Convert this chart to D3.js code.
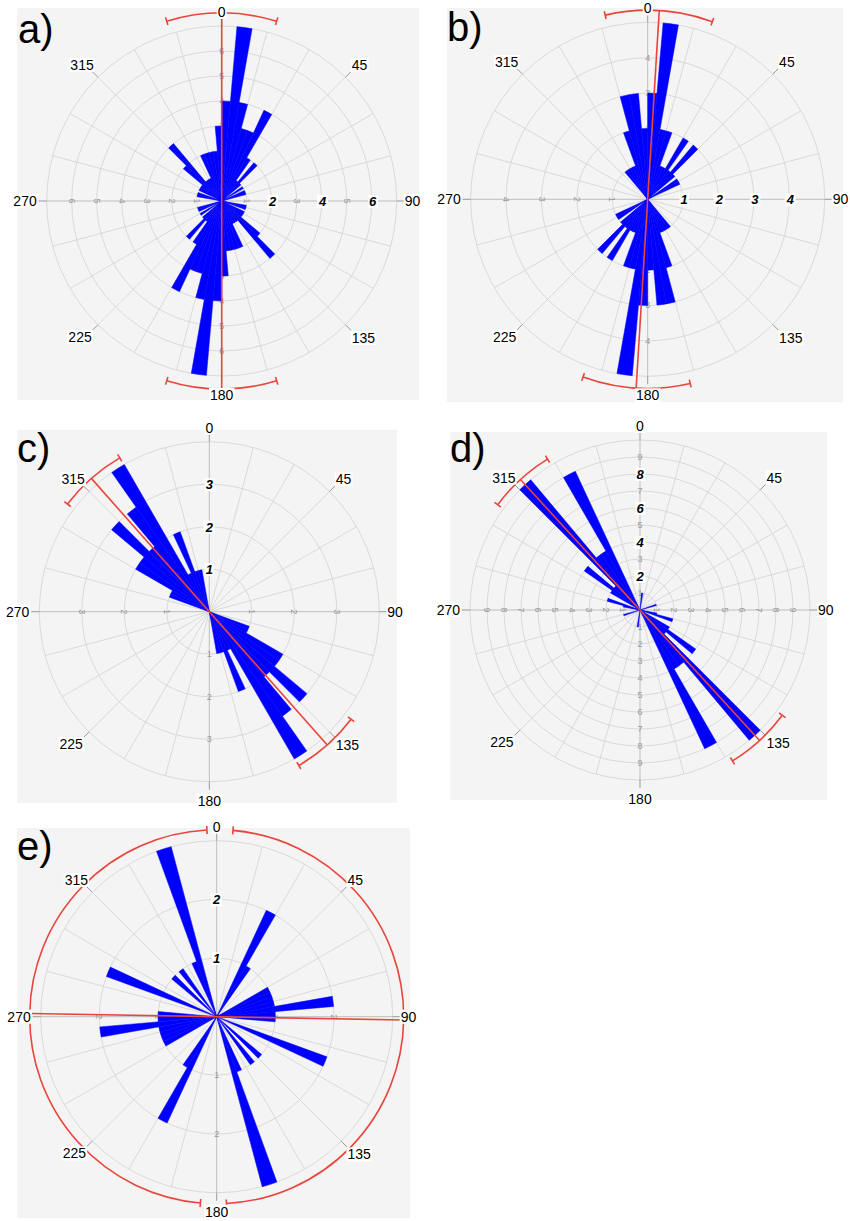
<!DOCTYPE html>
<html>
<head>
<meta charset="utf-8">
<script src="https://cdn.jsdelivr.net/npm/d3@7"></script>
<style>
body { margin: 0; background: #fff; }
text { font-family: "Liberation Sans", Arial, sans-serif; }
</style>
</head>
<body>
<script>
// 5 degree bins, 0..180, axial data (each bin is drawn again at +180)
var binWidth = 5;
var binStarts = d3.range(0, 180, binWidth);

var countsA = [4,7,4,3,3,4,2,1,2,1,0,1,0,1,1,0,0,0, 0,0,1,1,0,1,1,1,2,3,1,1,1,2,2,2,2,3];
var countsB = [3,5,2,2,1,1,2,1,2,1,0,1,1,0,0,0,0,0, 0,0,0,0,0,0,0,0,0,0,1,1,1,1,2,3,3,2];
var countsC = [0,0,0,0,0,0,0,0,0,0,0,0,0,0,0,0,0,0, 0,0,0,0,1,1,2,2,3,2,3,4,1,2,1,1,0,0];
var countsD = [0,1,0,0,0,0,0,0,0,0,0,0,0,0,1,0,0,0, 0,0,1,2,0,0,2,4,2,10,4,4,9,0,0,0,0,0];
var countsE = [0,0,0,0,0,2,1,0,0,0,0,0,1,1,1,1,2,1, 1,0,0,0,2,0,0,0,1,0,1,0,0,1,3,0,0,0];

var panelNames = ["a)", "b)", "c)", "d)", "e)"];
var ringMax = [7, 5, 4, 10, 3];
var meanDir = [0, 3.5, 318.5, 317.5, 91];
var confHalf = [17, 16.5, 11.3, 11, 86];
var boldTicksA = [2, 4, 6];
var boldTicksB = [1, 2, 3, 4];
var boldTicksC = [1, 2, 3];
var boldTicksD = [2, 4, 6, 8];
var boldTicksE = [1, 2];
var boldSide = ["E", "E", "N", "N", "N"];
var angleLabels = [0, 45, 90, 135, 180, 225, 270, 315];

var panels = [
  {name: panelNames[0], counts: countsA, max: ringMax[0], mean: meanDir[0], conf: confHalf[0], bold: boldTicksA, side: boldSide[0]},
  {name: panelNames[1], counts: countsB, max: ringMax[1], mean: meanDir[1], conf: confHalf[1], bold: boldTicksB, side: boldSide[1]},
  {name: panelNames[2], counts: countsC, max: ringMax[2], mean: meanDir[2], conf: confHalf[2], bold: boldTicksC, side: boldSide[2]},
  {name: panelNames[3], counts: countsD, max: ringMax[3], mean: meanDir[3], conf: confHalf[3], bold: boldTicksD, side: boldSide[3]},
  {name: panelNames[4], counts: countsE, max: ringMax[4], mean: meanDir[4], conf: confHalf[4], bold: boldTicksE, side: boldSide[4]}
];

// where each panel sits on the page
var layouts = [
  {x: 17,  y: 8,   w: 402, h: 392, cx: 221.7, cy: 201,    R: 175, arcR: 188, lx: 18,  ly: 43},
  {x: 447, y: 8,   w: 396, h: 394, cx: 647.7, cy: 199.3,  R: 177, arcR: 189, lx: 447, ly: 41},
  {x: 17,  y: 430, w: 380, h: 373, cx: 209.3, cy: 611.7,  R: 170, arcR: 178, lx: 17,  ly: 462},
  {x: 450, y: 432, w: 377, h: 368, cx: 640,   cy: 610,    R: 170, arcR: 177, lx: 450, ly: 462},
  {x: 17,  y: 828, w: 393, h: 390, cx: 216.7, cy: 1016.7, R: 176, arcR: 187, lx: 17,  ly: 860}
];

var red = "#e8453c";

var svg = d3.select("body").append("svg")
    .attr("width", 850)
    .attr("height", 1221);

function rad(deg) { return deg * Math.PI / 180; }
function px(r, deg) { return r * Math.sin(rad(deg)); }
function py(r, deg) { return -r * Math.cos(rad(deg)); }

// text with a white box behind it
function boxedText(g, x, y, str, opts) {
    var lg = g.append("g");
    var t = lg.append("text")
        .attr("x", x).attr("y", y)
        .attr("text-anchor", opts.anchor || "middle")
        .attr("font-size", opts.size || 14)
        .attr("font-weight", opts.weight || "normal")
        .attr("font-style", opts.style || "normal")
        .attr("fill", "#000")
        .text(str);
    var bb = t.node().getBBox();
    lg.insert("rect", "text")
        .attr("x", bb.x - 1).attr("y", bb.y + 1)
        .attr("width", bb.width + 2).attr("height", bb.height - 2)
        .attr("fill", "#fff");
    return lg;
}

function drawRose(p, L) {
    var g = svg.append("g");

    g.append("rect")
        .attr("x", L.x).attr("y", L.y)
        .attr("width", L.w).attr("height", L.h)
        .attr("fill", "#f4f4f4");

    var c = g.append("g").attr("transform", "translate(" + L.cx + "," + L.cy + ")");
    var r = d3.scaleLinear().domain([0, p.max]).range([0, L.R]);

    // rings
    c.selectAll("circle.ring")
        .data(d3.range(1, p.max + 1))
        .enter().append("circle")
        .attr("r", function(d) { return r(d); })
        .attr("fill", "none")
        .attr("stroke", "#d6d6d6")
        .attr("stroke-width", 0.9);

    // spokes every 15 degrees
    c.selectAll("line.spoke")
        .data(d3.range(0, 360, 15))
        .enter().append("line")
        .attr("x1", 0).attr("y1", 0)
        .attr("x2", function(d) { return px(L.R, d); })
        .attr("y2", function(d) { return py(L.R, d); })
        .attr("stroke", function(d) { return d % 90 === 0 ? "#b8b8b8" : "#d6d6d6"; })
        .attr("stroke-width", 0.9);

    // axis stubs and tick marks outside the circle
    c.selectAll("line.tick")
        .data(angleLabels)
        .enter().append("line")
        .attr("x1", function(d) { return px(L.R, d); })
        .attr("y1", function(d) { return py(L.R, d); })
        .attr("x2", function(d) { return px(L.R + 8, d); })
        .attr("y2", function(d) { return py(L.R + 8, d); })
        .attr("stroke", "#999")
        .attr("stroke-width", 1);

    // faint ring values along the four axes
    var sides = ["N", "E", "S", "W"];
    var dirs = {N: 0, E: 90, S: 180, W: 270};
    sides.forEach(function(s) {
        d3.range(1, p.max).forEach(function(v) {
            if (s === p.side && p.bold.indexOf(v) >= 0) return;
            var x = px(r(v), dirs[s]), y = py(r(v), dirs[s]);
            var t = c.append("text")
                .attr("x", x).attr("y", y)
                .attr("text-anchor", "middle")
                .attr("dominant-baseline", "central")
                .attr("font-size", 9)
                .attr("fill", "#9a9a9a")
                .text(v);
            if (s === "E" || s === "W") t.attr("transform", "rotate(90," + x + "," + y + ")");
        });
    });

    // petals
    var bins = [];
    p.counts.forEach(function(v, k) {
        if (v > 0) {
            bins.push({a: binStarts[k], v: v});
            bins.push({a: binStarts[k] + 180, v: v});
        }
    });
    var arc = d3.arc().innerRadius(0);
    c.selectAll("path.bar")
        .data(bins)
        .enter().append("path")
        .attr("d", function(d) {
            return arc({outerRadius: r(d.v), startAngle: rad(d.a), endAngle: rad(d.a + binWidth)});
        })
        .attr("fill", "#0000ff")
        .attr("stroke", "#0000ff")
        .attr("stroke-width", 0.5)
        .attr("stroke-linejoin", "round");

    // mean direction and confidence arcs
    c.append("line")
        .attr("x1", px(L.arcR, p.mean)).attr("y1", py(L.arcR, p.mean))
        .attr("x2", px(L.arcR, p.mean + 180)).attr("y2", py(L.arcR, p.mean + 180))
        .attr("stroke", red)
        .attr("stroke-width", 1.6);

    var confArc = d3.arc().innerRadius(L.arcR).outerRadius(L.arcR);
    [p.mean, p.mean + 180].forEach(function(m) {
        c.append("path")
            .attr("d", confArc({startAngle: rad(m - p.conf), endAngle: rad(m + p.conf)}))
            .attr("fill", "none")
            .attr("stroke", red)
            .attr("stroke-width", 1.6);
        [m - p.conf, m + p.conf].forEach(function(e) {
            c.append("line")
                .attr("x1", px(L.arcR - 4, e)).attr("y1", py(L.arcR - 4, e))
                .attr("x2", px(L.arcR + 4, e)).attr("y2", py(L.arcR + 4, e))
                .attr("stroke", red)
                .attr("stroke-width", 1.6);
        });
    });

    // bold ring labels
    p.bold.forEach(function(v) {
        var x = px(r(v), dirs[p.side]), y = py(r(v), dirs[p.side]);
        boxedText(c, x + (p.side === "E" ? 1 : 0), y + 5, v, {weight: "bold", style: "italic", size: 13});
    });

    // compass labels
    var d = 0.7071 * (L.R + 6);
    boxedText(c, 0, -L.R - 9, "0", {});
    boxedText(c, 0, L.R + 24, "180", {});
    boxedText(c, L.R + 8, 5, "90", {anchor: "start"});
    boxedText(c, -L.R - 10, 5, "270", {anchor: "end"});
    boxedText(c, d + 2, -d - 3, "45", {anchor: "start"});
    boxedText(c, -d, -d - 3, "315", {anchor: "end"});
    boxedText(c, d + 2, d + 14, "135", {anchor: "start"});
    boxedText(c, -d - 2, d + 13, "225", {anchor: "end"});

    g.append("text")
        .attr("x", L.lx).attr("y", L.ly)
        .attr("font-size", 40)
        .attr("fill", "#000")
        .text(p.name);
}

panels.forEach(function(p, i) { drawRose(p, layouts[i]); });
</script>
</body>
</html>
